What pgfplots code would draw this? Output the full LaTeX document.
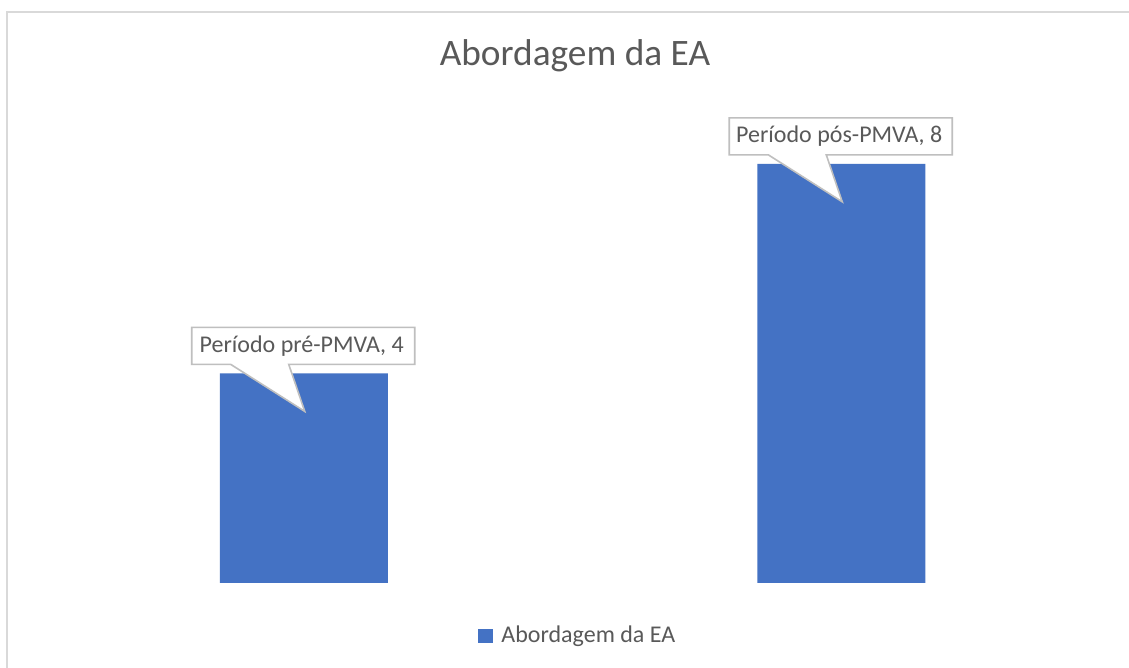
\documentclass[border=0pt]{standalone}
\usepackage{fontspec}
\setmainfont{Carlito}
\usepackage{pgfplots}
\pgfplotsset{compat=1.18}
\definecolor{barblue}{HTML}{4472C4}
\definecolor{txt}{HTML}{595959}
\definecolor{frame}{HTML}{D9D9D9}
\definecolor{cframe}{HTML}{BFBFBF}
\def\u{0.375pt}
\newcommand\callout[3]{%
  \draw[cframe, line width=0.6pt, fill=white, line join=miter]
    ([shift={(-112*\u,46*\u)}]axis cs:#1,#2) --
    ([shift={(111*\u,46*\u)}]axis cs:#1,#2) --
    ([shift={(111*\u,9*\u)}]axis cs:#1,#2) --
    ([shift={(-15*\u,9*\u)}]axis cs:#1,#2) --
    ([shift={(1*\u,-38*\u)}]axis cs:#1,#2) --
    ([shift={(-73*\u,9*\u)}]axis cs:#1,#2) --
    ([shift={(-112*\u,9*\u)}]axis cs:#1,#2) -- cycle;
  \node[anchor=base, text=txt, font=\fontsize{9}{11}\selectfont, inner sep=0pt]
    at ([shift={(-2*\u,21*\u)}]axis cs:#1,#2) {#3};
}
\begin{document}
\begin{tikzpicture}
\useasboundingbox (0pt,0pt) rectangle (423.375pt,250.5pt);
\fill[white] (0pt,0pt) rectangle (423.375pt,250.5pt);
\draw[frame, line width=0.8pt] (2.625pt,-8pt) -- (2.625pt,246pt) -- (432pt,246pt);
\node[anchor=base, text=txt, font=\fontsize{14}{16}\selectfont, inner sep=0pt] at (215.6pt,225.75pt) {Abordagem da EA};
\begin{axis}[
  at={(13.125pt,31.875pt)}, anchor=south west,
  scale only axis,
  width=403.125pt, height=176.85pt,
  xmin=-0.5, xmax=1.5, ymin=0, ymax=9,
  hide axis,
  clip=false,
  ybar, bar width=63pt,
  legend style={draw=none, fill=none, at={(0.5065,-0.1124)}, anchor=center,
    font=\fontsize{9}{11}\selectfont, text=txt, inner sep=0pt,
    legend cell align=left},
  legend image code/.code={\fill[#1,draw=none] (0pt,-2.7pt) rectangle (5.4pt,2.7pt);},
]
\addplot[fill=barblue, draw=none] coordinates {(0,4) (1,8)};
\addlegendentry{\hspace{1.2pt}Abordagem da EA}
\callout{0}{4}{Período pré-PMVA, 4}
\callout{1}{8}{Período pós-PMVA, 8}
\end{axis}
\end{tikzpicture}
\end{document}
